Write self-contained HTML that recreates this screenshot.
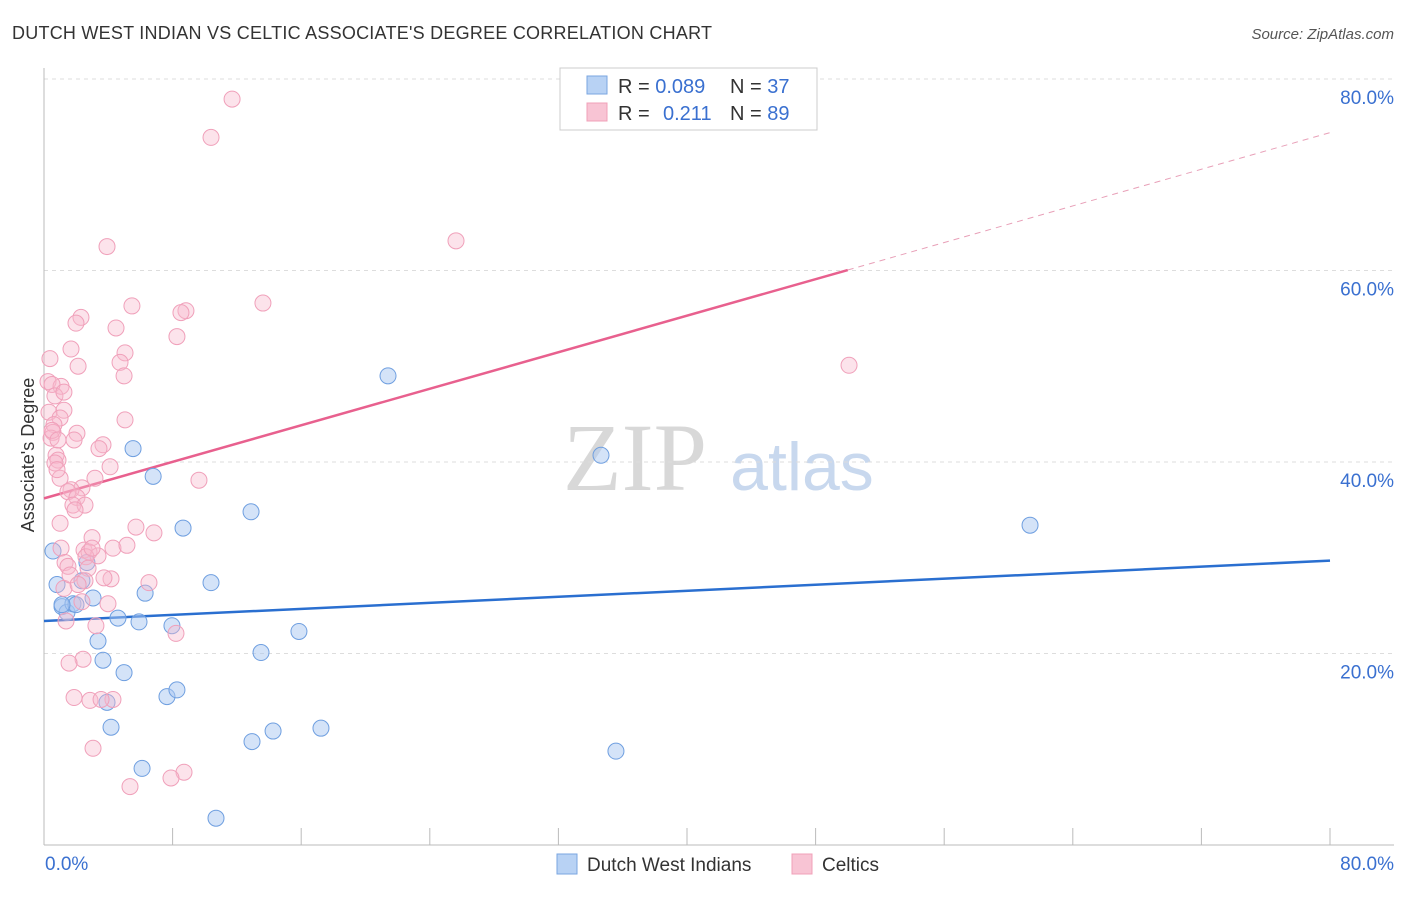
<!DOCTYPE html>
<html><head><meta charset="utf-8"><style>
body{margin:0;background:#fff;font-family:"Liberation Sans",sans-serif}
</style></head><body>
<svg id="chart" width="1406" height="892" xmlns="http://www.w3.org/2000/svg" style="font-family:'Liberation Sans',sans-serif">
<text x="12" y="39" font-size="18" fill="#333" textLength="700">DUTCH WEST INDIAN VS CELTIC ASSOCIATE'S DEGREE CORRELATION CHART</text>
<text x="1394" y="39" font-size="15" fill="#555" text-anchor="end" font-style="italic">Source: ZipAtlas.com</text>
<g>
<text x="635" y="490" font-size="96" fill="#d8d8d8" text-anchor="middle" font-family="'Liberation Serif',serif">ZIP</text>
<text x="802" y="490" font-size="68" fill="#c8d8ee" text-anchor="middle">atlas</text>
</g>
<g id="grid"></g><g id="axes"></g><g id="lines"></g><g id="points"></g>
<text transform="translate(34,455) rotate(-90)" font-size="18" fill="#333" text-anchor="middle">Associate's Degree</text>
<g>
<rect x="560" y="68" width="257" height="62" fill="#fff" stroke="#ccc"/>
<rect x="587" y="76" width="20" height="18" fill="#b8d2f4" stroke="#7aa6e0"/>
<rect x="587" y="103" width="20" height="18" fill="#f8c4d4" stroke="#f0a0b8"/>
<text x="618" y="93" font-size="20" fill="#333">R = <tspan fill="#3a70d0">0.089</tspan><tspan x="730">N = </tspan><tspan fill="#3a70d0">37</tspan></text>
<text x="618" y="120" font-size="20" fill="#333">R = <tspan x="663" fill="#3a70d0">0.211</tspan><tspan x="730">N = </tspan><tspan fill="#3a70d0">89</tspan></text>
</g>
<g>
<rect x="557" y="854" width="20" height="20" fill="#b8d2f4" stroke="#7aa6e0"/>
<text x="587" y="871" font-size="19" fill="#333">Dutch West Indians</text>
<rect x="792" y="854" width="20" height="20" fill="#f8c4d4" stroke="#f0a0b8"/>
<text x="822" y="871" font-size="19" fill="#333">Celtics</text>
</g>
</svg>
<script>
const blueX=[0.56,0.81,1.12,1.43,1.80,2.36,2.67,3.05,3.36,3.67,3.92,4.17,4.60,4.98,5.54,5.91,6.10,6.29,6.79,7.65,7.96,8.27,8.65,10.39,10.70,12.88,12.94,13.50,14.25,15.86,17.23,21.40,34.65,35.58,61.34,1.99,1.12];
const blueY=[30.7,27.2,24.9,24.3,25.2,27.6,29.5,25.8,21.3,19.3,14.9,12.3,23.7,18.0,41.4,23.3,8.0,26.3,38.5,15.5,22.9,16.2,33.1,27.4,2.8,34.8,10.8,20.1,11.9,22.3,12.2,49.0,40.7,9.8,33.4,25.1,25.1];
const pinkX=[11.70,10.39,3.92,25.63,5.47,13.62,8.83,8.52,2.30,1.99,4.48,8.27,1.68,5.04,0.37,2.12,4.73,4.98,0.25,1.06,0.50,0.68,0.31,1.24,1.00,5.04,0.62,0.56,2.05,0.44,1.87,3.67,3.42,0.75,0.87,0.68,4.11,9.64,3.17,1.00,2.36,1.68,1.49,2.05,1.80,2.55,1.93,1.00,5.72,6.84,2.99,1.06,4.29,5.16,2.49,2.80,3.36,2.61,1.31,1.49,2.74,4.17,6.53,2.55,1.24,3.98,2.36,1.37,3.23,8.21,2.43,1.56,1.87,2.86,4.29,3.55,3.05,8.71,7.90,5.35,50.08,0.50,0.87,0.81,1.62,2.12,2.99,3.73,1.24];
const pinkY=[77.9,73.9,62.5,63.1,56.3,56.6,55.8,55.6,55.1,54.5,54.0,53.1,51.8,51.4,50.8,50.0,50.4,49.0,48.4,47.9,48.1,46.9,45.2,45.4,44.6,44.4,43.9,43.1,43.0,42.5,42.3,41.8,41.4,40.7,40.2,39.9,39.5,38.1,38.3,38.3,37.3,37.1,36.9,36.3,35.5,35.5,35.0,33.6,33.2,32.6,32.1,31.0,31.0,31.3,30.8,30.6,30.2,30.1,29.5,29.1,28.9,27.8,27.4,27.6,26.8,25.2,25.4,23.4,22.9,22.1,19.4,19.0,15.4,15.1,15.2,15.2,10.1,7.6,7.0,6.1,50.1,43.3,42.3,39.2,28.2,27.2,31.0,27.9,47.3];
const yTicks=[20,40,60,80];
const yTickLabels=["20.0%","40.0%","60.0%","80.0%"];
const xTickLabels=["0.0%","80.0%"];
const blueLine=[23.4,29.7];
const pinkLine=[36.2,60.05,74.4];
const pinkSolidEnd=50;

const NS="http://www.w3.org/2000/svg";
const X0=44,X1=1330,Y0=845,Y80=79;
const sx=v=>X0+(X1-X0)*v/80;
const sy=v=>Y0-(Y0-Y80)*v/80;
function mk(parent,tag,attrs){const e=document.createElementNS(NS,tag);for(const k in attrs)e.setAttribute(k,attrs[k]);document.getElementById(parent).appendChild(e);return e;}

yTicks.forEach((t,i)=>{
  const g=mk('grid','line',{x1:X0,x2:1394,y1:sy(t),y2:sy(t),stroke:'#ddd','stroke-dasharray':'4,4'});
  
  
  const l=mk('axes','text',{x:1394,y:sy(t)+25,'font-size':19,fill:'#3a70d0','text-anchor':'end'});
  l.textContent=yTickLabels[i];
  
  
});
const xa=mk('axes','line',{x1:X0,x2:1394,y1:Y0,y2:Y0,stroke:'#bbb'});


const ya=mk('axes','line',{x1:X0,x2:X0,y1:68,y2:Y0,stroke:'#bbb'});


for(let i=0;i<=10;i++){
  const t=mk('axes','line',{x1:sx(i*8),x2:sx(i*8),y1:Y0,y2:Y0-17,stroke:'#bbb'});
  
  
}
[[0,'start',45],[80,'end',1394]].forEach((d,i)=>{
  const l=mk('axes','text',{x:d[2],y:870,'font-size':19,fill:'#3a70d0','text-anchor':d[1]});
  l.textContent=xTickLabels[i];
  
  
});

blueX.forEach((x,i)=>{
  const c=mk('points','circle',{cx:sx(x),cy:sy(blueY[i]),r:8,fill:'rgba(170,200,242,0.5)',stroke:'#6f9fe0','stroke-width':1});
  
  
});
pinkX.forEach((x,i)=>{
  const c=mk('points','circle',{cx:sx(x),cy:sy(pinkY[i]),r:8,fill:'rgba(248,185,205,0.4)',stroke:'#f0a0ba','stroke-width':1});
  
  
});
const bl=mk('lines','line',{x1:sx(0),y1:sy(blueLine[0]),x2:sx(80),y2:sy(blueLine[1]),stroke:'#2a6fd0','stroke-width':2.5});


const pl=mk('lines','line',{x1:sx(0),y1:sy(pinkLine[0]),x2:sx(pinkSolidEnd),y2:sy(pinkLine[1]),stroke:'#e8608e','stroke-width':2.5});


const pd=mk('lines','line',{x1:sx(pinkSolidEnd),y1:sy(pinkLine[1]),x2:sx(80),y2:sy(pinkLine[2]),stroke:'#e8a0b8','stroke-width':1,'stroke-dasharray':'6,5'});


</script>
</body></html>
